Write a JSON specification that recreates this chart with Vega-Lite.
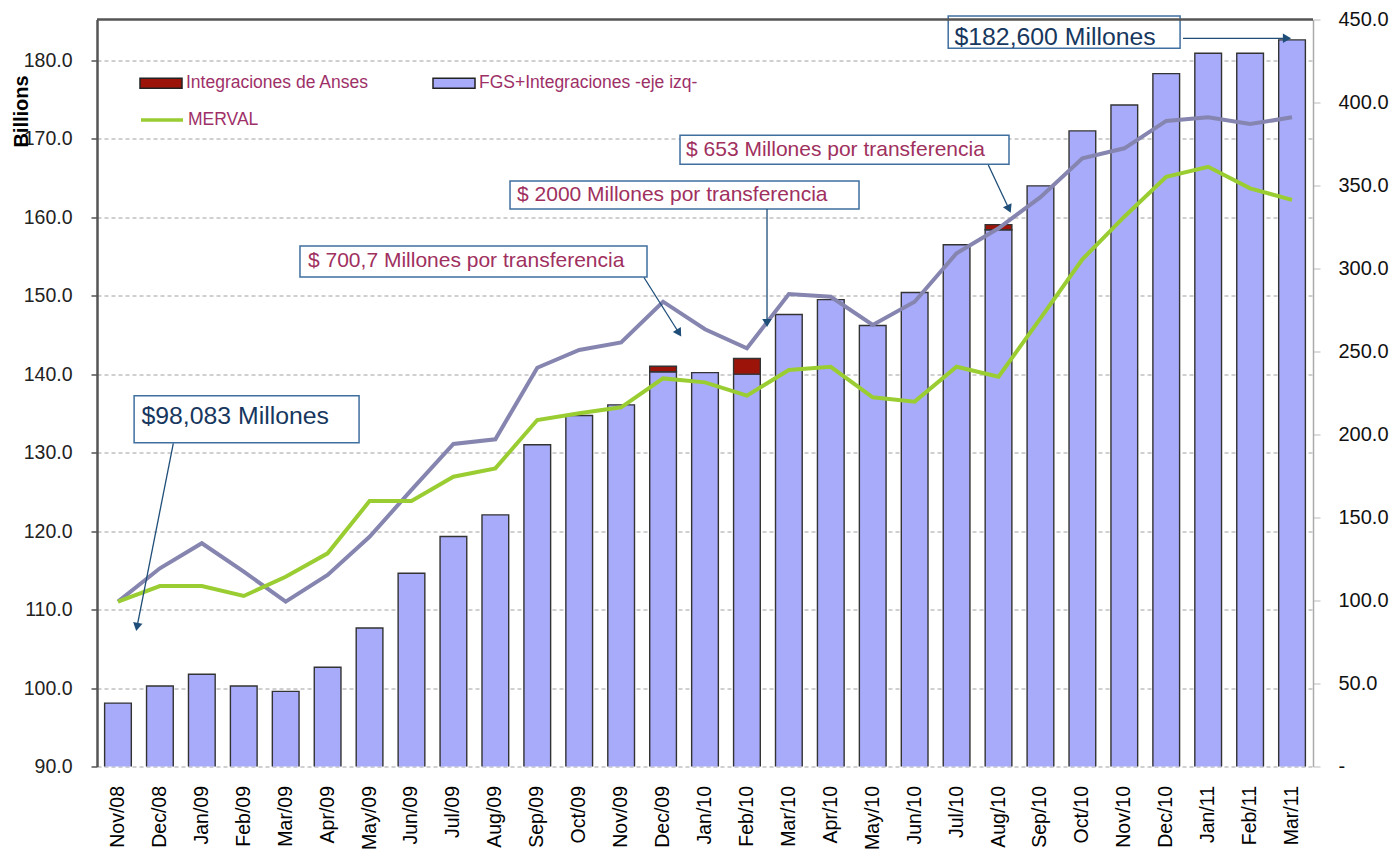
{
  "$schema": "https://vega.github.io/schema/vega-lite/v6.json",
  "width": 1216,
  "height": 747,
  "autosize": {"type": "none"},
  "padding": {"left": 97, "top": 19.5, "right": 81, "bottom": 87.5},
  "config": {"view": {"stroke": null}, "font": "Liberation Sans"},
  "datasets": {
    "main": [
      {"mes": "Nov/08", "fgs": 98.08, "anses": 0, "indice": 99.3, "merval": 99.3},
      {"mes": "Dec/08", "fgs": 100.26, "anses": 0, "indice": 119.4, "merval": 108.7},
      {"mes": "Jan/09", "fgs": 101.75, "anses": 0, "indice": 134.5, "merval": 108.7},
      {"mes": "Feb/09", "fgs": 100.26, "anses": 0, "indice": 117.4, "merval": 102.7},
      {"mes": "Mar/09", "fgs": 99.58, "anses": 0, "indice": 99.3, "merval": 114.3},
      {"mes": "Apr/09", "fgs": 102.64, "anses": 0, "indice": 115.4, "merval": 128.4},
      {"mes": "May/09", "fgs": 107.65, "anses": 0, "indice": 138.4, "merval": 159.9},
      {"mes": "Jun/09", "fgs": 114.63, "anses": 0, "indice": 166.6, "merval": 159.9},
      {"mes": "Jul/09", "fgs": 119.31, "anses": 0, "indice": 194.3, "merval": 174.6},
      {"mes": "Aug/09", "fgs": 122.07, "anses": 0, "indice": 197.1, "merval": 179.6},
      {"mes": "Sep/09", "fgs": 131.0, "anses": 0, "indice": 240.2, "merval": 208.7},
      {"mes": "Oct/09", "fgs": 134.73, "anses": 0, "indice": 250.9, "merval": 212.8},
      {"mes": "Nov/09", "fgs": 136.09, "anses": 0, "indice": 255.5, "merval": 216.4},
      {"mes": "Dec/09", "fgs": 140.3, "anses": 0.7007, "indice": 280.0, "merval": 233.8},
      {"mes": "Jan/10", "fgs": 140.2, "anses": 0, "indice": 263.4, "merval": 231.4},
      {"mes": "Feb/10", "fgs": 140.0, "anses": 2.0, "indice": 251.9, "merval": 223.4},
      {"mes": "Mar/10", "fgs": 147.6, "anses": 0, "indice": 284.6, "merval": 238.9},
      {"mes": "Apr/10", "fgs": 149.5, "anses": 0, "indice": 283.0, "merval": 240.8},
      {"mes": "May/10", "fgs": 146.2, "anses": 0, "indice": 266.0, "merval": 222.4},
      {"mes": "Jun/10", "fgs": 150.4, "anses": 0, "indice": 280.0, "merval": 219.8},
      {"mes": "Jul/10", "fgs": 156.5, "anses": 0, "indice": 309.2, "merval": 240.8},
      {"mes": "Aug/10", "fgs": 158.4, "anses": 0.653, "indice": 324.2, "merval": 234.8},
      {"mes": "Sep/10", "fgs": 164.0, "anses": 0, "indice": 343.0, "merval": 270.0},
      {"mes": "Oct/10", "fgs": 171.0, "anses": 0, "indice": 366.4, "merval": 305.5},
      {"mes": "Nov/10", "fgs": 174.3, "anses": 0, "indice": 372.4, "merval": 331.2},
      {"mes": "Dec/10", "fgs": 178.3, "anses": 0, "indice": 388.9, "merval": 355.3},
      {"mes": "Jan/11", "fgs": 180.9, "anses": 0, "indice": 391.1, "merval": 361.3},
      {"mes": "Feb/11", "fgs": 180.9, "anses": 0, "indice": 387.0, "merval": 348.3},
      {"mes": "Mar/11", "fgs": 182.6, "anses": 0, "indice": 391.1, "merval": 341.3}
    ],
    "boxes": [
      {"x1": 0.885, "x2": 6.25, "y1": 137.25, "y2": 131.27, "tx": 1.06, "ty": 134.58, "texto": "$98,083 Millones", "tipo": "total"},
      {"x1": 4.841, "x2": 13.117, "y1": 156.33, "y2": 152.38, "tx": 5.032, "ty": 154.36, "texto": "$ 700,7 Millones por transferencia", "tipo": "transfer"},
      {"x1": 9.85, "x2": 18.173, "y1": 164.62, "y2": 161.05, "tx": 10.017, "ty": 162.83, "texto": "$ 2000 Millones por transferencia", "tipo": "transfer"},
      {"x1": 13.904, "x2": 21.75, "y1": 170.44, "y2": 166.74, "tx": 14.047, "ty": 168.57, "texto": "$ 653 Millones por transferencia", "tipo": "transfer"},
      {"x1": 20.3, "x2": 25.83, "y1": 185.64, "y2": 181.53, "tx": 20.45, "ty": 182.88, "texto": "$182,600 Millones", "tipo": "total"}
    ],
    "arrows": [
      {"ax1": 1.82, "ay1": 131.19, "ax2": 0.954, "ay2": 107.78, "ang": 191},
      {"ax1": 13.045, "ay1": 152.32, "ax2": 13.88, "ay2": 145.25, "ang": 148},
      {"ax1": 15.979, "ay1": 161.05, "ax2": 15.979, "ay2": 146.52, "ang": 180},
      {"ax1": 21.257, "ay1": 166.65, "ax2": 21.75, "ay2": 161.05, "ang": 155},
      {"ax1": 25.9, "ay1": 182.8, "ax2": 28.38, "ay2": 182.8, "ang": 90}
    ]
  },
  "layer": [
    {
      "data": {"name": "main"},
      "transform": [
        {"fold": ["fgs", "anses"], "as": ["serie", "valor"]},
        {"filter": "datum.valor > 0"}
      ],
      "mark": {"type": "bar", "clip": true, "stroke": "#333333", "strokeWidth": 1.4},
      "encoding": {
        "x": {
          "field": "mes", "type": "nominal", "sort": null,
          "scale": {"paddingInner": 0.363, "paddingOuter": 0.1815},
          "axis": {"title": null, "labelAngle": -90, "labelFontSize": 19.5, "labelColor": "#000000", "ticks": false, "domain": false, "labelPadding": 19, "grid": false}
        },
        "y": {
          "field": "valor", "type": "quantitative", "stack": "zero",
          "scale": {"domain": [90, 185.2], "zero": false, "nice": false},
          "axis": {
            "title": "Billions", "titleFontSize": 20, "titleFontWeight": "bold", "titleColor": "#000000",
            "titleX": -76, "titleY": 91.5, "titleAngle": -90, "titleAlign": "center", "titleBaseline": "middle",
            "values": [90, 100, 110, 120, 130, 140, 150, 160, 170, 180], "format": ".1f",
            "labelFontSize": 19.5, "labelColor": "#222222", "labelPadding": 19,
            "tickSize": 6, "tickColor": "#555555", "tickWidth": 1.5,
            "domainColor": "#555555", "domainWidth": 2.5,
            "grid": true, "gridColor": "#a0a0a0", "gridDash": [4, 3], "gridWidth": 1
          }
        },
        "fill": {
          "field": "serie", "type": "nominal",
          "scale": {"domain": ["anses", "fgs"], "range": ["#9C1409", "#A8ABFA"]},
          "legend": {
            "title": null, "orient": "none", "legendX": 42, "legendY": 41.5, "direction": "horizontal",
            "columnPadding": 61, "symbolType": "M-1,-0.24H1V0.24H-1Z", "symbolSize": 1764,
            "symbolStrokeColor": "#222222", "symbolStrokeWidth": 1.5, "labelFontSize": 17.5,
            "labelColor": "#9E3068", "labelOffset": 3, "labelLimit": 0, "padding": 0,
            "labelExpr": "datum.label == 'anses' ? 'Integraciones de Anses' : 'FGS+Integraciones -eje izq-'"
          }
        },
        "order": {"field": "serie", "sort": "descending"}
      }
    },
    {
      "data": {"name": "main"},
      "encoding": {
        "x": {"field": "mes", "type": "nominal", "sort": null, "axis": null, "scale": {"type": "point", "padding": 0.5}}
      },
      "layer": [
        {
          "mark": {"type": "line", "color": "#8585B0", "strokeWidth": 4},
          "encoding": {
            "y": {
              "field": "indice", "type": "quantitative",
              "scale": {"domain": [0, 450], "nice": false, "zero": true},
              "axis": {
                "orient": "right", "title": null, "values": [0, 50, 100, 150, 200, 250, 300, 350, 400, 450],
                "labelExpr": "datum.value == 0 ? '-' : format(datum.value, '.1f')",
                "labelFontSize": 20, "labelColor": "#111111", "tickSize": 7, "tickColor": "#bbbbbb",
                "domainColor": "#aaaaaa", "domainWidth": 1.5, "labelPadding": 18, "grid": false
              }
            }
          }
        },
        {
          "mark": {"type": "line", "strokeWidth": 4},
          "encoding": {
            "y": {"field": "merval", "type": "quantitative"},
            "stroke": {
              "datum": "MERVAL",
              "scale": {"range": ["#9ACD32"]},
              "legend": {
                "title": null, "orient": "none", "legendX": 42, "legendY": 77.5,
                "symbolType": "stroke", "symbolSize": 1764, "symbolStrokeWidth": 3.5,
                "labelFontSize": 17.5, "labelColor": "#9E3068", "labelOffset": 3, "labelLimit": 0, "padding": 0
              }
            }
          }
        }
      ]
    },
    {
      "layer": [
        {
          "data": {"name": "boxes"},
          "mark": {"type": "rect", "fill": "white", "stroke": "#3F6F9F", "strokeWidth": 1.5},
          "encoding": {
            "x": {"field": "x1", "type": "quantitative", "scale": {"domain": [0, 29], "nice": false, "zero": false}, "axis": null},
            "x2": {"field": "x2"},
            "y": {"field": "y1", "type": "quantitative", "scale": {"domain": [90, 185.2], "nice": false, "zero": false}, "axis": null},
            "y2": {"field": "y2"}
          }
        },
        {
          "data": {"name": "boxes"},
          "transform": [{"filter": "datum.tipo == 'total'"}],
          "mark": {"type": "text", "align": "left", "baseline": "middle", "fontSize": 24.8, "color": "#17375E"},
          "encoding": {
            "x": {"field": "tx", "type": "quantitative"},
            "y": {"field": "ty", "type": "quantitative"},
            "text": {"field": "texto"}
          }
        },
        {
          "data": {"name": "boxes"},
          "transform": [{"filter": "datum.tipo == 'transfer'"}],
          "mark": {"type": "text", "align": "left", "baseline": "middle", "fontSize": 21, "color": "#A0305E"},
          "encoding": {
            "x": {"field": "tx", "type": "quantitative"},
            "y": {"field": "ty", "type": "quantitative"},
            "text": {"field": "texto"}
          }
        },
        {
          "data": {"name": "arrows"},
          "mark": {"type": "rule", "color": "#1F4E79", "strokeWidth": 1.3},
          "encoding": {
            "x": {"field": "ax1", "type": "quantitative"},
            "y": {"field": "ay1", "type": "quantitative"},
            "x2": {"field": "ax2"},
            "y2": {"field": "ay2"}
          }
        },
        {
          "data": {"name": "arrows"},
          "mark": {"type": "point", "shape": "triangle-up", "filled": true, "color": "#1F4E79", "size": 90, "opacity": 1},
          "encoding": {
            "x": {"field": "ax2", "type": "quantitative"},
            "y": {"field": "ay2", "type": "quantitative"},
            "angle": {"field": "ang", "type": "quantitative", "scale": null}
          }
        },
        {
          "data": {"values": [{}]},
          "mark": {"type": "rule", "color": "#555555", "strokeWidth": 2.5},
          "encoding": {"y": {"datum": 185.2, "type": "quantitative"}}
        }
      ]
    }
  ],
  "resolve": {"scale": {"x": "independent", "y": "independent"}}
}
